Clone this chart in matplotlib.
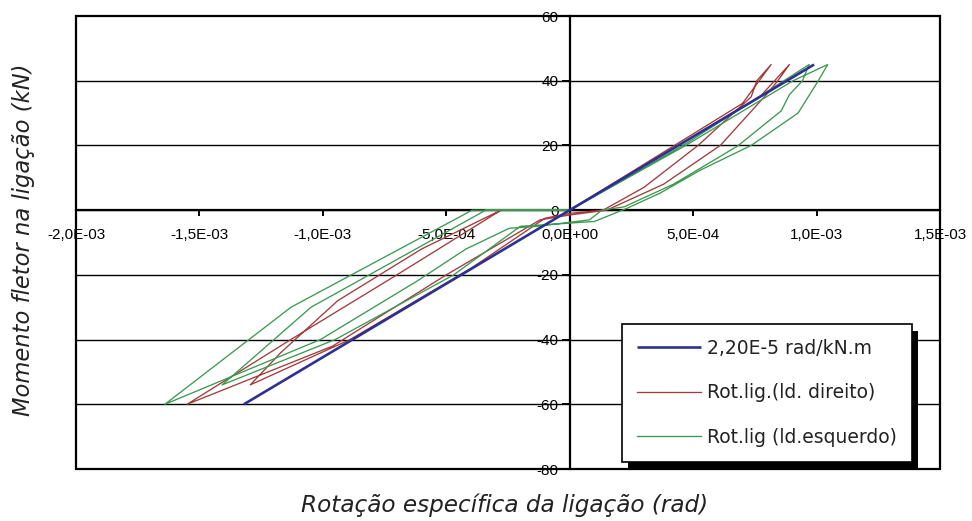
import matplotlib
matplotlib.use("Agg")
import matplotlib.pyplot as plt
import numpy as np
from matplotlib.patches import Rectangle
from matplotlib.transforms import IdentityTransform

# Connection stiffness (rad per kN.m) and the moment range of the linear model
stiffness = 2.20e-5
moment_linear = [-60, 45]

# Right-side connection: rotation (10^-3 rad) and moment (kN.m) along the load path
rot_direito_mrad = [0, 0.77, 0.89, 0.843, 0.80, 0.61, 0.38, 0.15, 0.0, -0.12, -0.50,
                    -0.96, -1.55, -1.13, -0.70, -0.278, 0.0, 0.70, 0.816, 0.758, 0.735,
                    0.52, 0.30, 0.135, 0.0, -0.10, -0.40, -0.89, -1.294, -1.17, -0.94,
                    -0.60, -0.278]
mom_direito = [0, 35, 45, 40, 36, 20, 8, 0, -1.5, -3, -20,
               -42, -60, -40, -20, 0, 0, 33, 45, 40, 35,
               20, 7, 0, -1, -2.5, -18, -40, -54, -44, -28,
               -12, 0]

# Left-side connection: rotation (10^-3 rad) and moment (kN.m) along the load path
rot_esquerdo_mrad = [0, 0.30, 0.48, 0.97, 0.943, 0.89, 0.857, 0.68, 0.42, 0.22, 0.13,
                     0.08, -0.13, -0.245, -0.42, -0.62, -1.01, -1.64, -1.129, -0.395,
                     0.0, 0.47, 0.905, 1.045, 1.007, 0.925, 0.735, 0.53, 0.367, 0.233,
                     0.10, -0.10, -0.20, -0.47, -0.95, -1.408, -1.048, -0.34, 0.0]
mom_esquerdo = [0, 13, 21, 45, 40, 35.7, 30.7, 19.8, 8, 1, 0,
                -3, -5, -5.6, -12, -22, -40, -60, -30, 0,
                0, 20, 40, 45, 40, 30, 20, 12.4, 5.3, 0.6,
                -3.5, -4.5, -5, -20, -40, -54, -30, 0, 0]

series_labels = ["2,20E-5 rad/kN.m", "Rot.lig.(ld. direito)", "Rot.lig (ld.esquerdo)"]
x_ticks = [-2.0e-3, -1.5e-3, -1.0e-3, -5.0e-4, 0.0, 5.0e-4, 1.0e-3, 1.5e-3]
y_ticks = [-80, -60, -40, -20, 0, 20, 40, 60]

c_blue = "#2E3192"
c_red = "#A33B3B"
c_green = "#3C9A50"

W, H = 972, 521
fig = plt.figure(figsize=(W / 100, H / 100), dpi=100)
ax_l, ax_r, ax_t, ax_b = 76, 940, 16, 469
ax = fig.add_axes([ax_l / W, 1 - ax_b / H, (ax_r - ax_l) / W, (ax_b - ax_t) / H])

ax.set_xlim(x_ticks[0], x_ticks[-1])
ax.set_ylim(y_ticks[0], y_ticks[-1])

# horizontal grid
for yv in y_ticks[1:-1]:
    ax.axhline(yv, color="black", lw=1.0, zorder=1)

# axes crossing at the origin
for side in ("top", "right"):
    ax.spines[side].set_visible(False)
ax.spines["left"].set_position(("data", 0))
ax.spines["bottom"].set_position(("data", 0))
for side in ("left", "bottom"):
    ax.spines[side].set_linewidth(1.6)
    ax.spines[side].set_zorder(2)

# plot-area frame
ax.add_patch(Rectangle((0, 0), 1, 1, transform=ax.transAxes, fill=False,
                       edgecolor="black", lw=1.6, zorder=6, clip_on=False))

ax.set_xticks(x_ticks)
ax.set_xticklabels(["{:.1E}".format(v).replace(".", ",") for v in x_ticks])
ax.set_yticks(y_ticks)
ax.set_yticklabels([str(v) for v in y_ticks])
ax.tick_params(axis="x", direction="out", length=4, width=1.4, pad=9,
               labelsize=11, colors="black")
ax.tick_params(axis="y", direction="out", length=6, width=1.4, pad=2,
               labelsize=11, colors="black")
for lab in ax.get_xticklabels() + ax.get_yticklabels():
    lab.set_fontfamily("Liberation Sans")

# curves
m_lin = np.array(moment_linear, dtype=float)
ax.plot(stiffness * m_lin, m_lin, color=c_blue, lw=1.9, zorder=4,
        label=series_labels[0], solid_capstyle="butt")
ax.plot(np.array(rot_direito_mrad) * 1e-3, mom_direito, color=c_red, lw=0.95,
        zorder=3, label=series_labels[1])
ax.plot(np.array(rot_esquerdo_mrad) * 1e-3, mom_esquerdo, color=c_green, lw=0.95,
        zorder=3, label=series_labels[2])

# axis titles
fig.text(505 / W, 1 - 505 / H, "Rotação específica da ligação (rad)",
         ha="center", va="center", fontsize=16.7, style="italic",
         family="DejaVu Sans", color="#222222")
fig.text(24 / W, 1 - 240 / H, "Momento fletor na ligação (kN)",
         ha="center", va="center", fontsize=16.3, style="italic",
         family="DejaVu Sans", color="#222222", rotation=90)

# legend with a solid drop shadow
leg = ax.legend(loc="upper left",
                bbox_to_anchor=((622 - ax_l) / (ax_r - ax_l), (ax_b - 324) / (ax_b - ax_t)),
                frameon=True, fancybox=False, edgecolor="black", framealpha=1,
                prop={"family": "DejaVu Sans", "size": 13.5},
                handlelength=3.4, handletextpad=0.35, labelspacing=1.35,
                borderpad=0.8, borderaxespad=0)
leg.get_frame().set_linewidth(1.2)
leg.set_zorder(7)
for t in leg.get_texts():
    t.set_color("#222222")

fig.canvas.draw()
bb = leg.get_window_extent()
shadow = Rectangle((bb.x0 + 6, bb.y0 - 7), bb.width, bb.height,
                   transform=IdentityTransform(), facecolor="black",
                   edgecolor="none", zorder=6.9)
ax.add_artist(shadow)

fig.savefig("out.png", dpi=100)
